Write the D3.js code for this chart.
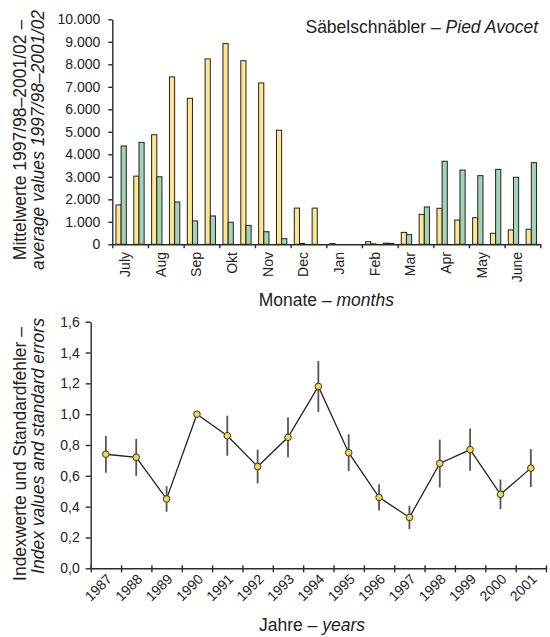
<!DOCTYPE html>
<html>
<head>
<meta charset="utf-8">
<script src="https://cdn.jsdelivr.net/npm/d3@7"></script>
<style>
  body { margin: 0; background: #fff; }
  text { font-family: "Liberation Sans", Arial, Helvetica, sans-serif; fill: #222; }
</style>
</head>
<body>
<svg id="chart" width="550" height="637"></svg>
<script>
// Monthly means (two values per month: first and second half)
const months = ["July", "Aug", "Sep", "Okt", "Nov", "Dec", "Jan", "Feb", "Mar", "Apr", "May", "June"];
const seriesYellow = [1750, 3030, 4870, 7440, 6490, 8240, 8920, 8160, 7170, 5070, 1610, 1610,
                      30, 0, 115, 50, 530, 1330, 1600, 1080, 1180, 490, 640, 670];
const seriesGreen  = [4370, 4530, 3000, 1880, 1040, 1260, 980, 840, 560, 250, 40, 0,
                      0, 0, 20, 40, 430, 1660, 3690, 3300, 3050, 3330, 2980, 3630];
const countTicks = [0, 1000, 2000, 3000, 4000, 5000, 6000, 7000, 8000, 9000, 10000];

// Annual index values with standard errors
const years = [1987, 1988, 1989, 1990, 1991, 1992, 1993, 1994, 1995, 1996, 1997, 1998, 1999, 2000, 2001];
const indexValues    = [0.74, 0.72, 0.45, 1.00, 0.86, 0.66, 0.85, 1.18, 0.75, 0.46, 0.33, 0.68, 0.77, 0.48, 0.65];
const standardErrors = [0.12, 0.12, 0.083, 0, 0.13, 0.11, 0.13, 0.165, 0.12, 0.085, 0.076, 0.155, 0.137, 0.096, 0.123];
const indexTicks = [0, 0.2, 0.4, 0.6, 0.8, 1.0, 1.2, 1.4, 1.6];

const de = d3.formatLocale({ decimal: ",", thousands: ".", grouping: [3], currency: ["", " €"] });
const fmtCount = de.format(",");
const fmtIndex = de.format(".1f");

const svg = d3.select("#chart");
const axisColor = "#2a2a2a";

function styleAxis(g) {
  g.selectAll(".domain").attr("stroke", axisColor).attr("stroke-width", 1.4);
  g.selectAll(".tick line").attr("stroke", axisColor).attr("stroke-width", 1.4);
  g.selectAll(".tick text").attr("font-size", 14).attr("fill", "#222")
    .attr("font-family", "\"Liberation Sans\", Arial, sans-serif");
}

// ---------- Upper chart: half-monthly bars ----------
const upper = { left: 112.3, right: 540.3, y0: 244.3, y1: 19.3 };

const yCount = d3.scaleLinear().domain([0, 10000]).range([upper.y0, upper.y1]);
const xHalf = d3.scaleBand().domain(d3.range(seriesYellow.length)).range([upper.left, upper.right]).padding(0);
const xPair = d3.scaleBand().domain(["yellow", "green"])
  .range([xHalf.bandwidth() * 0.205, xHalf.bandwidth() * 0.785]).padding(0);
const xMonth = d3.scaleBand().domain(months).range([upper.left, upper.right]).padding(0);
const xMonthEdge = d3.scaleLinear().domain([0, months.length]).range([upper.left, upper.right]);

const barData = seriesYellow.flatMap((v, i) => [
  { i, key: "yellow", value: v },
  { i, key: "green", value: seriesGreen[i] }
]);
const barFill = { yellow: "#fde68f", green: "#a3d3b4" };

svg.append("g").selectAll("rect").data(barData).join("rect")
  .attr("x", d => xHalf(d.i) + xPair(d.key))
  .attr("y", d => yCount(d.value))
  .attr("width", xPair.bandwidth())
  .attr("height", d => yCount(0) - yCount(d.value))
  .attr("fill", d => barFill[d.key])
  .attr("stroke", "#222")
  .attr("stroke-width", 1);

// y axis
const gyUpper = svg.append("g").attr("transform", `translate(${upper.left},0)`)
  .call(d3.axisLeft(yCount).tickValues(countTicks).tickFormat(fmtCount).tickSize(4).tickSizeOuter(0).tickPadding(8));
styleAxis(gyUpper);

// x axis with ticks at month boundaries
const gxUpper = svg.append("g").attr("transform", `translate(0,${upper.y0})`)
  .call(d3.axisBottom(xMonthEdge).tickValues(d3.range(months.length + 1)).tickFormat("").tickSize(4).tickSizeOuter(0));
styleAxis(gxUpper);

svg.append("g").selectAll("text").data(months).join("text")
  .attr("transform", d => `translate(${xMonth(d) + xMonth.bandwidth() / 2},252) rotate(-90)`)
  .attr("text-anchor", "end")
  .attr("font-size", 14)
  .text(d => d);

// Species title
const title = svg.append("text").attr("x", 538).attr("y", 33).attr("text-anchor", "end").attr("font-size", 17.5);
title.append("tspan").text("Säbelschnäbler – ");
title.append("tspan").attr("font-style", "italic").text("Pied Avocet");

// Axis titles
const xtUpper = svg.append("text").attr("x", (upper.left + upper.right) / 2).attr("y", 306)
  .attr("text-anchor", "middle").attr("font-size", 17.5);
xtUpper.append("tspan").text("Monate – ");
xtUpper.append("tspan").attr("font-style", "italic").text("months");

svg.append("text").attr("transform", "translate(26,140) rotate(-90)")
  .attr("text-anchor", "middle").attr("font-size", 17.5)
  .text("Mittelwerte  1997/98–2001/02 –");
svg.append("text").attr("transform", "translate(44,140) rotate(-90)")
  .attr("text-anchor", "middle").attr("font-size", 17.5).attr("font-style", "italic")
  .text("average values 1997/98–2001/02");

// ---------- Lower chart: index values ----------
const lower = { left: 90.7, right: 546, y0: 568.3, y1: 321.7 };

const yIdx = d3.scaleLinear().domain([0, 1.6]).range([lower.y0, lower.y1]);
const xYear = d3.scaleBand().domain(years).range([lower.left, lower.right]).padding(0);
const xYearEdge = d3.scaleLinear().domain([0, years.length]).range([lower.left, lower.right]);
const cx = y => xYear(y) + xYear.bandwidth() / 2;

const gyLower = svg.append("g").attr("transform", `translate(${lower.left},0)`)
  .call(d3.axisLeft(yIdx).tickValues(indexTicks).tickFormat(fmtIndex).tickSize(5).tickSizeOuter(0).tickPadding(6));
styleAxis(gyLower);

const gxLower = svg.append("g").attr("transform", `translate(0,${lower.y0})`)
  .call(d3.axisBottom(xYearEdge).tickValues(d3.range(years.length + 1)).tickFormat("").tickSize(4).tickSizeOuter(0));
styleAxis(gxLower);
gxLower.selectAll(".tick line").attr("y1", -3);

svg.append("g").selectAll("text").data(years).join("text")
  .attr("transform", d => `translate(${cx(d) + 7},580) rotate(-45)`)
  .attr("text-anchor", "end")
  .attr("font-size", 14)
  .text(d => d);

const pts = years.map((y, i) => ({ year: y, v: indexValues[i], se: standardErrors[i] }));

// error bars
svg.append("g").selectAll("line").data(pts.filter(d => d.se > 0)).join("line")
  .attr("x1", d => cx(d.year)).attr("x2", d => cx(d.year))
  .attr("y1", d => yIdx(d.v + d.se)).attr("y2", d => yIdx(d.v - d.se))
  .attr("stroke", "#555").attr("stroke-width", 1.8);

// index line
svg.append("path").datum(pts)
  .attr("fill", "none").attr("stroke", "#222").attr("stroke-width", 1.3)
  .attr("d", d3.line().x(d => cx(d.year)).y(d => yIdx(d.v)));

// markers
svg.append("g").selectAll("circle").data(pts).join("circle")
  .attr("cx", d => cx(d.year)).attr("cy", d => yIdx(d.v)).attr("r", 3.3)
  .attr("fill", "#f6d64a").attr("stroke", "#333").attr("stroke-width", 1);

const xtLower = svg.append("text").attr("x", 312).attr("y", 631)
  .attr("text-anchor", "middle").attr("font-size", 17.5);
xtLower.append("tspan").text("Jahre – ");
xtLower.append("tspan").attr("font-style", "italic").text("years");

svg.append("text").attr("transform", "translate(26,454) rotate(-90)")
  .attr("text-anchor", "middle").attr("font-size", 17.5)
  .text("Indexwerte und Standardfehler –");
svg.append("text").attr("transform", "translate(44,446) rotate(-90)")
  .attr("text-anchor", "middle").attr("font-size", 17.5).attr("font-style", "italic")
  .text("Index values and standard errors");
</script>
</body>
</html>
